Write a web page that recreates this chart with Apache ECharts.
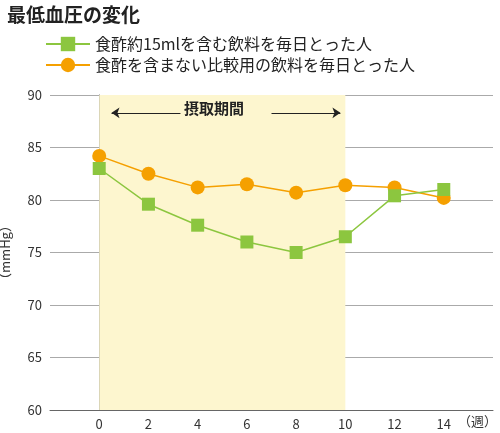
<!DOCTYPE html>
<html><head><meta charset="utf-8">
<script src="https://cdn.jsdelivr.net/npm/echarts@6/dist/echarts.min.js"></script>
<style>body{margin:0}#c{width:500px;height:433px}</style></head>
<body><div id="c"></div>
<script>
var weeks = [0, 2, 4, 6, 8, 10, 12, 14];
var vinegar = [83, 79.6, 77.6, 76, 75, 76.5, 80.4, 81];
var control = [84.2, 82.5, 81.2, 81.5, 80.7, 81.4, 81.2, 80.2];
var names = ['食酢約15mlを含む飲料を毎日とった人', '食酢を含まない比較用の飲料を毎日とった人'];

var chart = echarts.init(document.getElementById('c'));
var font = '"Noto Sans CJK JP", sans-serif';
function pts(v) { return weeks.map(function (w, i) { return [w, v[i]]; }); }
chart.setOption({
    textStyle: { fontFamily: font },
    title: { text: '最低血圧の変化', left: 2, top: 0, textStyle: { fontSize: 19, fontWeight: 'bold', color: '#222', fontFamily: font } },
    legend: {
        orient: 'vertical', left: 40, top: 31, itemGap: 5, itemWidth: 44, itemHeight: 18,
        textStyle: { fontSize: 16, color: '#222' }, data: names
    },
    grid: { left: 50, right: 7, top: 95, bottom: 23, outerBoundsMode: 'none', containLabel: false },
    xAxis: {
        type: 'value', min: -2, max: 16, interval: 2,
        axisLine: { lineStyle: { color: '#666' } }, axisTick: { show: false }, splitLine: { show: false },
        axisLabel: { color: '#333', fontSize: 13, formatter: function (v) { return (v < 0 || v > 14) ? '' : v; } }
    },
    yAxis: {
        type: 'value', min: 60, max: 90, interval: 5,
        name: '（mmHg）', nameLocation: 'middle', nameRotate: 90, nameGap: 38,
        nameTextStyle: { color: '#333', fontSize: 13 },
        axisLine: { show: true, lineStyle: { color: '#666' } }, axisTick: { show: false },
        splitLine: { lineStyle: { color: '#aaa' } },
        axisLabel: { color: '#333', fontSize: 13 }
    },
    graphic: [
        { type: 'text', left: 458, top: 415, z: 100, style: { text: '（週）', fontSize: 13, fill: '#333', fontFamily: font } },
        { type: 'text', left: 184, top: 101, z: 100, style: { text: '摂取期間', fontSize: 15, fontWeight: 'bold', fill: '#222', fontFamily: font } }
    ],
    series: [
        {
            name: names[0], type: 'line', data: pts(vinegar), symbol: 'rect', symbolSize: 13,
            color: '#8cc63f', lineStyle: { width: 1.5 }, z: 3,
            markArea: { silent: true, itemStyle: { color: '#fdf6cf' }, data: [[{ xAxis: 0 }, { xAxis: 10 }]] },
            markLine: {
                silent: true, symbol: ['none', 'arrow'], symbolSize: 8, label: { show: false },
                lineStyle: { color: '#222', type: 'solid', width: 1 },
                data: [
                    [{ coord: [3.3, 88.3], symbol: 'none' }, { coord: [0.5, 88.3] }],
                    [{ coord: [7, 88.3], symbol: 'none' }, { coord: [9.8, 88.3] }]
                ]
            }
        },
        {
            name: names[1], type: 'line', data: pts(control), symbol: 'circle', symbolSize: 14,
            color: '#f5a000', lineStyle: { width: 1.5 }, z: 2
        }
    ]
});
</script></body></html>
